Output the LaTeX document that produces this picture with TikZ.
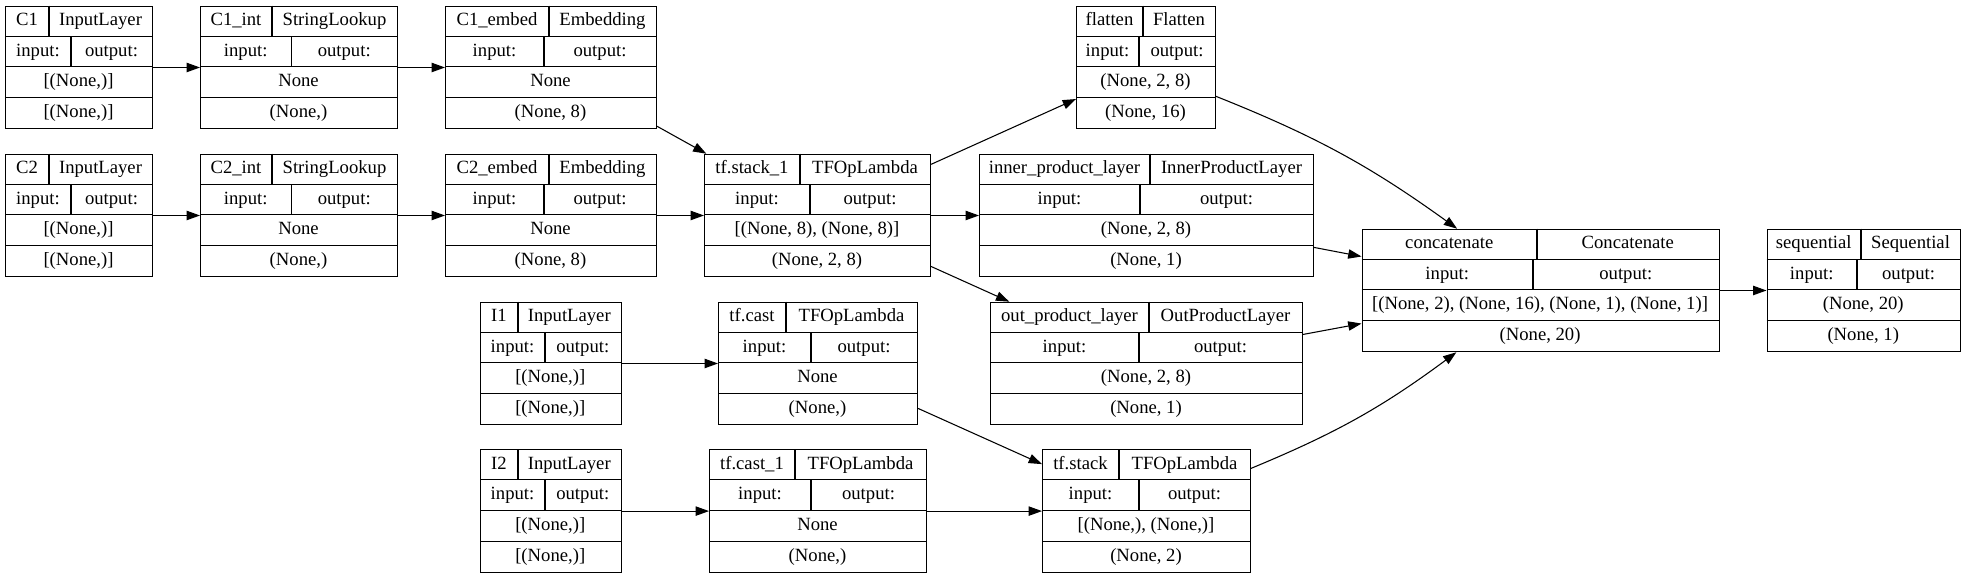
\documentclass[tikz,border=0pt]{standalone}
\usepackage{fontspec}
\setmainfont{Liberation Serif}
\usetikzlibrary{arrows.meta}
\tikzstyle{layer} = [draw, rectangle, inner sep=0pt, line width=0.8pt]
\tikzstyle{cell} = [inner sep=0pt, font=\fontsize{14}{16}\selectfont, text height=10pt, text depth=3pt]
\tikzstyle{rule} = [line width=0.8pt]
\tikzstyle{edge} = [line width=0.8pt, ->]

\begin{document}
\begin{tikzpicture}[x=0.75pt, y=-0.75pt, >={Triangle[length=10pt, width=7pt]}]
    \useasboundingbox (0,0) rectangle (1965,579);

    % name / left / top / right / header split / io split / texts
    \foreach \nm/\xl/\yt/\xr/\xh/\xio/\ttl/\cls/\ishape/\oshape in {
        C1/5/5.7/152/49/71/C1/InputLayer/{[(None,)]}/{[(None,)]},
        C2/5/153.7/152/49/71/C2/InputLayer/{[(None,)]}/{[(None,)]},
        C1int/200/5.7/397/272/291.5/C1\_int/StringLookup/None/{(None,)},
        C2int/200/153.7/397/272/291.5/C2\_int/StringLookup/None/{(None,)},
        C1embed/445/5.7/656/549/544/C1\_embed/Embedding/None/{(None, 8)},
        C2embed/445/153.7/656/549/544/C2\_embed/Embedding/None/{(None, 8)},
        stackone/704/153.7/930/800/810/tf.stack\_1/TFOpLambda/{[(None, 8), (None, 8)]}/{(None, 2, 8)},
        flatten/1076/5.7/1215/1143/1139/flatten/Flatten/{(None, 2, 8)}/{(None, 16)},
        innerprod/979/153.7/1313/1150/1140/inner\_product\_layer/InnerProductLayer/{(None, 2, 8)}/{(None, 1)},
        outprod/990/301.7/1302/1149/1139/out\_product\_layer/OutProductLayer/{(None, 2, 8)}/{(None, 1)},
        I1/480/301.7/620.5/518/545/I1/InputLayer/{[(None,)]}/{[(None,)]},
        I2/480/449.3/620.5/518/545/I2/InputLayer/{[(None,)]}/{[(None,)]},
        cast/718/301.7/917/786/811/tf.cast/TFOpLambda/None/{(None,)},
        castone/709/449.3/926/795/811/tf.cast\_1/TFOpLambda/None/{(None,)},
        stack/1042/449.3/1250/1119/1139/tf.stack/TFOpLambda/{[(None,), (None,)]}/{(None, 2)},
        concat/1361.5/228.7/1718.6/1537/1533/concatenate/Concatenate/{[(None, 2), (None, 16), (None, 1), (None, 1)]}/{(None, 20)},
        seq/1766.5/228.7/1960/1861/1857/sequential/Sequential/{(None, 20)}/{(None, 1)}
    }{
        \node[layer, anchor=north west, minimum width={(\xr-\xl)*0.75pt},
            minimum height=91.875pt] (\nm) at (\xl,\yt) {};
        \draw[rule] (\xl,{\yt+30.625}) -- (\xr,{\yt+30.625});
        \draw[rule] (\xl,{\yt+61.25}) -- (\xr,{\yt+61.25});
        \draw[rule] (\xl,{\yt+91.875}) -- (\xr,{\yt+91.875});
        \draw[rule] (\xh,\yt) -- (\xh,{\yt+30.625});
        \draw[rule] (\xio,{\yt+30.625}) -- (\xio,{\yt+61.25});
        \node[cell] at ({(\xl+\xh)/2},{\yt+15.3}) {\ttl};
        \node[cell] at ({(\xh+\xr)/2},{\yt+15.3}) {\cls};
        \node[cell] at ({(\xl+\xio)/2},{\yt+45.9}) {input:};
        \node[cell] at ({(\xio+\xr)/2},{\yt+45.9}) {output:};
        \node[cell] at ({(\xl+\xr)/2},{\yt+76.6}) {\ishape};
        \node[cell] at ({(\xl+\xr)/2},{\yt+107.2}) {\oshape};
    }

    \draw[edge] (C1) -- (C1int);
    \draw[edge] (C2) -- (C2int);
    \draw[edge] (C1int) -- (C1embed);
    \draw[edge] (C2int) -- (C2embed);
    \draw[edge] (C1embed) -- (stackone);
    \draw[edge] (C2embed) -- (stackone);
    \draw[edge] (stackone) -- (flatten);
    \draw[edge] (stackone) -- (innerprod);
    \draw[edge] (stackone) -- (outprod);
    \draw[edge] (flatten) to[bend left=7] (concat);
    \draw[edge] (innerprod) -- (concat);
    \draw[edge] (outprod) -- (concat);
    \draw[edge] (stack) to[bend right=7] (concat);
    \draw[edge] (concat) -- (seq);
    \draw[edge] (I1) -- (cast);
    \draw[edge] (I2) -- (castone);
    \draw[edge] (cast) -- (stack);
    \draw[edge] (castone) -- (stack);
\end{tikzpicture}
\end{document}
